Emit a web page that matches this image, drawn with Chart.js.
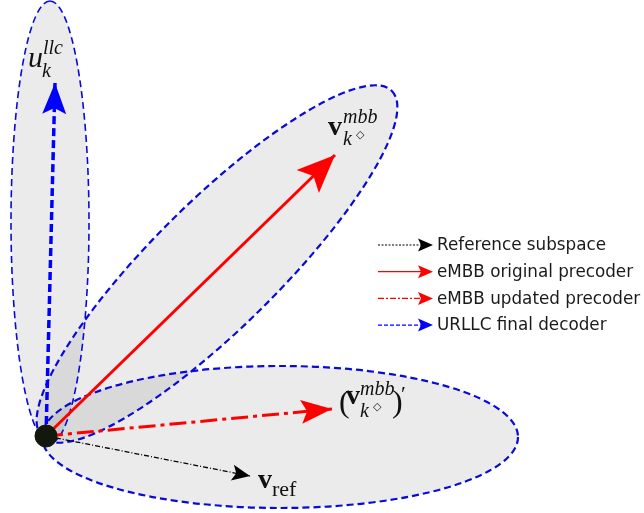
<!DOCTYPE html>
<html>
<head>
<meta charset="utf-8">
<script src="https://cdn.jsdelivr.net/npm/chart.js@4"></script>
<style>
  html, body { margin: 0; padding: 0; background: #fff; }
  canvas { display: block; }
</style>
</head>
<body>
<canvas id="c" width="644" height="513"></canvas>
<script>
// vectors, origin at the black dot, y up
const vectorNames = ['Reference subspace', 'eMBB original precoder', 'eMBB updated precoder', 'URLLC final decoder'];
const vectorX = [204, 289, 286, 9];
const vectorY = [-40, 281, 27, 353];

// shaded regions (ellipses) in the same units
const regionCx = [4, 171, 234];
const regionCy = [214, 172, -1];
const regionSemiMajor = [221, 246, 238];
const regionSemiMinor = [39, 63, 71];
const regionAngle = [90, 44.7, 0];
const regionLine = [1.6, 2.2, 2.2];

const styles = [
  { color: '#000000', width: 1.3, dash: [5, 2, 1, 2], head: [18, 8, 4] },
  { color: '#ff0000', width: 3, dash: [], head: [38, 16, 8] },
  { color: '#ff0000', width: 3, dash: [17, 5, 4, 5], head: [31, 12, 6] },
  { color: '#0000ff', width: 3.5, dash: [8, 4], head: [31, 12, 6] }
];

function arrowHead(ctx, x, y, ang, len, half, notch, color) {
  ctx.save();
  ctx.translate(x, y);
  ctx.rotate(ang);
  ctx.beginPath();
  ctx.moveTo(0, 0);
  ctx.lineTo(-len, -half);
  ctx.lineTo(-len + notch, 0);
  ctx.lineTo(-len, half);
  ctx.closePath();
  ctx.fillStyle = color;
  ctx.fill();
  ctx.restore();
}

function txt(ctx, s, font, x, y) {
  ctx.font = font;
  ctx.fillText(s, x, y);
  return ctx.measureText(s).width;
}

const regionsPlugin = {
  id: 'regions',
  beforeDatasetsDraw(chart) {
    const { ctx, scales: { x, y } } = chart;
    const sx = Math.abs(x.getPixelForValue(1) - x.getPixelForValue(0));
    const sy = Math.abs(y.getPixelForValue(1) - y.getPixelForValue(0));
    ctx.save();
    regionCx.forEach((cx, i) => {
      const px = x.getPixelForValue(cx);
      const py = y.getPixelForValue(regionCy[i]);
      ctx.beginPath();
      ctx.ellipse(px, py, regionSemiMajor[i] * sx, regionSemiMinor[i] * sy, -regionAngle[i] * Math.PI / 180, 0, Math.PI * 2);
      ctx.fillStyle = 'rgba(0,0,0,0.08)';
      ctx.fill();
    });
    regionCx.forEach((cx, i) => {
      const px = x.getPixelForValue(cx);
      const py = y.getPixelForValue(regionCy[i]);
      ctx.beginPath();
      ctx.ellipse(px, py, regionSemiMajor[i] * sx, regionSemiMinor[i] * sy, -regionAngle[i] * Math.PI / 180, 0, Math.PI * 2);
      ctx.strokeStyle = '#0a0ad8';
      ctx.lineWidth = regionLine[i];
      ctx.setLineDash([7, 4]);
      ctx.stroke();
    });
    ctx.restore();
  }
};

const annotPlugin = {
  id: 'annot',
  afterDatasetsDraw(chart) {
    const { ctx, scales: { x, y } } = chart;
    const ox = x.getPixelForValue(0), oy = y.getPixelForValue(0);
    const tips = vectorX.map((vx, i) => [x.getPixelForValue(vx), y.getPixelForValue(vectorY[i])]);
    ctx.save();
    tips.forEach(([tx, ty], i) => {
      const h = styles[i].head;
      arrowHead(ctx, tx, ty, Math.atan2(ty - oy, tx - ox), h[0], h[1], h[2], styles[i].color);
    });

    // math labels
    ctx.fillStyle = '#111';
    ctx.textBaseline = 'alphabetic';
    const it = 'italic 20px "Liberation Serif", serif';
    const itBig = 'italic 30px "Liberation Serif", serif';
    const bold = 'bold 28px "Liberation Serif", serif';

    // u_k^{llc}
    let [tx, ty] = tips[3];
    txt(ctx, 'u', itBig, tx - 27, ty - 16);
    txt(ctx, 'k', it, tx - 13, ty - 6);
    txt(ctx, 'llc', it, tx - 12, ty - 29);

    // v_{k◇}^{mbb}
    [tx, ty] = tips[1];
    txt(ctx, 'v', bold, tx - 7, ty - 20);
    txt(ctx, 'k', it, tx + 8, ty - 10);
    txt(ctx, '\u25C7', '11px "DejaVu Sans", sans-serif', tx + 21, ty - 17);
    txt(ctx, 'mbb', it, tx + 8, ty - 32);

    // (v_{k◇}^{mbb})'
    [tx, ty] = tips[2];
    txt(ctx, '(', '32px "Liberation Serif", serif', tx + 7, ty + 3);
    txt(ctx, 'v', bold, tx + 14, ty - 5);
    txt(ctx, 'k', it, tx + 28, ty + 8);
    txt(ctx, '\u25C7', '11px "DejaVu Sans", sans-serif', tx + 41, ty + 1);
    txt(ctx, 'mbb', it, tx + 28, ty - 14);
    txt(ctx, ')', '32px "Liberation Serif", serif', tx + 60, ty + 3);
    txt(ctx, '\u2032', '22px "Liberation Serif", serif', tx + 69, ty - 8);

    // v_ref
    [tx, ty] = tips[0];
    txt(ctx, 'v', bold, tx + 8, ty + 12);
    txt(ctx, 'ref', '22px "Liberation Serif", serif', tx + 22, ty + 20);

    // legend
    const lx = 378, ly = 245, step = 26.7;
    vectorNames.forEach((name, i) => {
      const yy = ly + i * step;
      const s = styles[i];
      ctx.beginPath();
      ctx.moveTo(lx, yy);
      ctx.lineTo(lx + 46, yy);
      ctx.strokeStyle = s.color;
      ctx.lineWidth = 1.2;
      ctx.setLineDash(i === 0 ? [2, 1.5] : i === 2 ? [6, 2, 2, 2] : i === 3 ? [4, 2] : []);
      ctx.stroke();
      arrowHead(ctx, lx + 55, yy, 0, 15, 6.5, 3, s.color);
      ctx.fillStyle = '#1a1a1a';
      ctx.textBaseline = 'middle';
      txt(ctx, name, '16.8px "DejaVu Sans", sans-serif', lx + 59, yy + 1);
    });
    ctx.restore();
  }
};

const datasets = vectorX.map((vx, i) => ({
  type: 'line',
  label: vectorNames[i],
  data: [{ x: 0, y: 0 }, { x: vx, y: vectorY[i] }],
  borderColor: styles[i].color,
  borderWidth: styles[i].width,
  borderDash: styles[i].dash,
  pointRadius: 0,
  fill: false,
  order: 1
}));
datasets.push({
  type: 'scatter',
  label: 'origin',
  data: [{ x: 0, y: 0 }],
  pointRadius: 11,
  backgroundColor: '#12180e',
  borderColor: '#12180e',
  order: 0
});

new Chart(document.getElementById('c'), {
  type: 'scatter',
  data: { datasets },
  options: {
    responsive: false,
    animation: false,
    devicePixelRatio: 1,
    events: [],
    layout: { padding: 0, autoPadding: false },
    plugins: { legend: { display: false }, tooltip: { enabled: false } },
    scales: {
      x: { type: 'linear', min: -46, max: 598, display: false },
      y: { type: 'linear', min: -77, max: 436, display: false }
    }
  },
  plugins: [regionsPlugin, annotPlugin]
});
</script>
</body>
</html>
